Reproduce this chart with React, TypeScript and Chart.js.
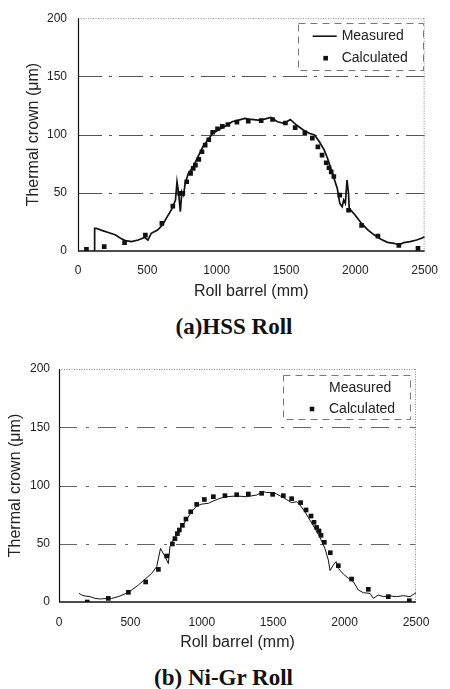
import React, { useEffect, useRef } from "react";
import { Chart, registerables } from "chart.js";

Chart.register(...registerables);

// ---------- data ----------
const MEASURED_LABEL = "Measured";
const CALCULATED_LABEL = "Calculated";
const X_TITLE = "Roll barrel (mm)";
const Y_TITLE = "Thermal crown (μm)";
const X_MIN = 0;
const X_MAX = 2500;
const X_STEP = 500;
const Y_MIN = 0;
const Y_MAX = 200;
const Y_STEP = 50;

// (a) HSS roll
const hssMeasuredX = [119, 120, 131, 177, 224, 271, 306, 341, 387, 434, 481, 504, 528, 574, 609, 644, 679, 703, 714, 726, 738, 749, 761, 773, 796, 831, 866, 901, 936, 971, 1018, 1064, 1111, 1158, 1204, 1251, 1298, 1344, 1391, 1438, 1485, 1531, 1578, 1625, 1671, 1706, 1741, 1776, 1800, 1823, 1846, 1870, 1888, 1905, 1916, 1928, 1940, 1951, 1956, 1998, 2045, 2092, 2138, 2185, 2232, 2279, 2314, 2349, 2395, 2442, 2477, 2500];
const hssMeasuredY = [0, 19.5, 19.5, 17.5, 15.7, 13.7, 10.9, 8.9, 8, 9.4, 11.7, 9.4, 15.2, 18, 22.3, 29.5, 36.6, 43.8, 59.5, 49.5, 33.8, 51, 48, 58, 66.7, 72.4, 81, 89.6, 95.3, 101, 104.4, 107.3, 111, 112.4, 113.9, 113, 112.4, 113.3, 114.7, 111, 109.6, 113, 108, 103.9, 101, 99.6, 93.8, 86.7, 79.5, 71, 62.4, 53.8, 40.9, 38, 43.8, 41, 61, 49.5, 36.6, 30.9, 23.7, 18, 13.7, 10, 7.4, 6.6, 5.2, 7.2, 8, 9.4, 10.9, 12.3];
const hssCalcX = [61, 189, 336, 486, 605, 684, 733, 756, 784, 812, 831, 847, 871, 894, 917, 943, 971, 1006, 1041, 1081, 1146, 1228, 1321, 1403, 1496, 1566, 1636, 1690, 1730, 1760, 1790, 1810, 1826, 1845, 1888, 1951, 2045, 2163, 2314, 2452];
const hssCalcY = [1.4, 3.7, 7.2, 13.7, 23.7, 38.6, 49.5, 49.5, 59.5, 66.7, 71, 73.8, 78.7, 85.3, 91, 95.6, 102, 105, 107, 108.7, 110.7, 111.6, 112, 113, 110, 106, 101.6, 97, 89.5, 82.4, 75.8, 71.5, 68, 64, 48, 35, 22, 12.8, 4.8, 2.2];

// (b) Ni-Gr roll
const nigrMeasuredX = [140, 159, 182, 217, 252, 287, 322, 369, 415, 462, 509, 556, 602, 649, 684, 711, 742, 766, 777, 789, 824, 859, 894, 929, 964, 999, 1046, 1081, 1127, 1174, 1244, 1314, 1384, 1431, 1454, 1501, 1524, 1571, 1629, 1664, 1687, 1722, 1757, 1792, 1827, 1862, 1886, 1898, 1921, 1940, 1956, 1991, 2026, 2061, 2096, 2131, 2178, 2201, 2236, 2271, 2318, 2364, 2411, 2458, 2500];
const nigrMeasuredY = [7.4, 6, 5.2, 4.6, 3.1, 2.6, 2.9, 3.1, 4.6, 6.9, 10.3, 14.6, 19.5, 24.6, 30.3, 46, 39, 33, 47.5, 51, 59, 65, 71, 77.5, 82.4, 84, 84.7, 86.7, 89, 90.4, 91, 90.4, 91.8, 94.7, 94, 93.8, 92.7, 89.6, 85.3, 86, 83.3, 77.5, 70.4, 63.2, 55.5, 46, 36, 27, 31.8, 34.6, 28.9, 24, 20.3, 17.5, 10.3, 8, 7.4, 3.1, 6, 4.6, 5.2, 4.6, 5.4, 4.6, 8];
const nigrCalcX = [198, 345, 486, 607, 696, 754, 794, 812, 829, 843, 864, 889, 922, 964, 1018, 1081, 1162, 1244, 1326, 1419, 1496, 1571, 1629, 1692, 1730, 1765, 1786, 1804, 1821, 1835, 1858, 1900, 1956, 2049, 2166, 2306, 2453];
const nigrCalcY = [0, 3.1, 8.3, 17.2, 28, 39.5, 49.8, 54.4, 58.7, 61.8, 65.8, 71.2, 77.5, 83.8, 88, 90.4, 91.3, 92.1, 92.7, 93.3, 92.4, 91.3, 88.7, 85.3, 79, 73.8, 68.4, 64, 61, 57.2, 51.2, 42.3, 31.2, 19.7, 10.9, 4.6, 1.1];

const CAPTION_A = "(a)HSS Roll";
const CAPTION_B = "(b) Ni-Gr Roll";

// ---------- helpers ----------
const zip = (xs: number[], ys: number[]) => xs.map((x, i) => ({ x, y: ys[i] }));
const SANS = '"Liberation Sans", Arial, sans-serif';

const framePlugin = {
  id: "frameGrid",
  beforeDatasetsDraw(chart: any, _args: any, o: any) {
    const { ctx, chartArea } = chart;
    const { left, right, top, bottom } = chartArea;
    const ys = chart.scales.y;
    ctx.save();
    ctx.lineWidth = 1;
    ctx.strokeStyle = o.gridColor;
    ctx.setLineDash(o.gridDash);
    ys.ticks.forEach((t: any) => {
      if (t.value > ys.min && t.value < ys.max) {
        const y = Math.round(ys.getPixelForValue(t.value)) + 0.5;
        ctx.beginPath();
        ctx.moveTo(left, y);
        ctx.lineTo(right, y);
        ctx.stroke();
      }
    });
    ctx.strokeStyle = "#888";
    ctx.setLineDash([1, 1.5]);
    ctx.beginPath();
    ctx.moveTo(left, top + 0.5);
    ctx.lineTo(right, top + 0.5);
    ctx.moveTo(right - 0.5, top);
    ctx.lineTo(right - 0.5, bottom);
    ctx.stroke();
    ctx.setLineDash([]);
    ctx.strokeStyle = "#111";
    ctx.lineWidth = 1.2;
    ctx.beginPath();
    ctx.moveTo(left + 0.5, top);
    ctx.lineTo(left + 0.5, bottom);
    ctx.stroke();
    ctx.lineWidth = 1.6;
    ctx.beginPath();
    ctx.moveTo(left, bottom);
    ctx.lineTo(right, bottom);
    ctx.stroke();
    ctx.restore();
  },
};

const boxLegendPlugin = {
  id: "boxLegend",
  afterDraw(chart: any, _args: any, o: any) {
    const { ctx, chartArea } = chart;
    const bx = chartArea.right - o.rightGap - o.w;
    const by = chartArea.top + o.topGap;
    ctx.save();
    ctx.strokeStyle = "#777";
    ctx.lineWidth = 1;
    ctx.setLineDash([7, 5]);
    ctx.strokeRect(Math.round(bx) + 0.5, Math.round(by) + 0.5, o.w, o.h);
    ctx.setLineDash([]);
    ctx.font = `14px ${SANS}`;
    ctx.fillStyle = "#222";
    ctx.textBaseline = "middle";
    ctx.textAlign = "left";
    const ds = chart.data.datasets;
    const y1 = by + o.row1;
    if (o.showLine) {
      ctx.strokeStyle = "#111";
      ctx.lineWidth = 1.6;
      ctx.beginPath();
      ctx.moveTo(bx + o.lineFrom, y1);
      ctx.lineTo(bx + o.lineTo, y1);
      ctx.stroke();
    }
    ctx.fillText(ds[0].label, bx + o.textX, y1);
    const y2 = by + o.row2;
    ctx.fillStyle = "#111";
    ctx.fillRect(bx + o.markX - 2.3, y2 - 2.3, 4.6, 4.6);
    ctx.fillStyle = "#222";
    ctx.fillText(ds[1].label, bx + o.textX, y2);
    ctx.restore();
  },
};

type PanelSpec = {
  top: number;
  height: number;
  measured: { x: number; y: number }[];
  calc: { x: number; y: number }[];
  lineWidth: number;
  yAxisWidth: number;
  padRight: number;
  yTitlePad: number;
  yTickPad: number;
  xTickPad: number;
  gridColor: string;
  gridDash: number[];
  legend: any;
};

const plainTick = (v: any) => String(v);

function Panel({ spec }: { spec: PanelSpec }) {
  const ref = useRef<HTMLCanvasElement | null>(null);
  useEffect(() => {
    if (!ref.current) return;
    const chart = new Chart(ref.current, {
      type: "line",
      data: {
        datasets: [
          {
            label: MEASURED_LABEL,
            data: spec.measured,
            borderColor: "#111",
            backgroundColor: "#111",
            borderWidth: spec.lineWidth,
            pointRadius: 0,
            tension: 0,
            fill: false,
          },
          {
            label: CALCULATED_LABEL,
            data: spec.calc,
            showLine: false,
            pointStyle: "rect",
            pointRadius: 3.3,
            pointBorderWidth: 0,
            pointBackgroundColor: "#111",
            borderColor: "#111",
            backgroundColor: "#111",
          },
        ],
      },
      options: {
        responsive: false,
        animation: false,
        layout: { padding: { left: 0, top: 18, right: spec.padRight, bottom: 0 } },
        plugins: {
          legend: { display: false },
          tooltip: { enabled: false },
          frameGrid: { gridColor: spec.gridColor, gridDash: spec.gridDash },
          boxLegend: spec.legend,
        } as any,
        scales: {
          x: {
            type: "linear",
            min: X_MIN,
            max: X_MAX,
            ticks: {
              stepSize: X_STEP,
              padding: spec.xTickPad,
              color: "#222",
              font: { family: SANS, size: 12 },
              maxRotation: 0,
              callback: plainTick,
            },
            grid: { display: false, drawTicks: false },
            border: { display: false },
            title: {
              display: true,
              text: X_TITLE,
              color: "#222",
              font: { family: SANS, size: 16 },
              padding: { top: 0, bottom: 9.4 },
            },
            afterFit: (s: any) => {
              s.height = 60;
            },
          },
          y: {
            type: "linear",
            min: Y_MIN,
            max: Y_MAX,
            ticks: {
              stepSize: Y_STEP,
              padding: spec.yTickPad,
              color: "#222",
              font: { family: SANS, size: 12 },
              callback: plainTick,
            },
            grid: { display: false, drawTicks: false },
            border: { display: false },
            title: {
              display: true,
              text: Y_TITLE,
              color: "#222",
              font: { family: SANS, size: 16 },
              padding: { top: spec.yTitlePad, bottom: 0 },
            },
            afterFit: (s: any) => {
              s.width = spec.yAxisWidth;
            },
          },
        },
      } as any,
      plugins: [framePlugin, boxLegendPlugin],
    });
    return () => chart.destroy();
  }, [spec]);
  return (
    <canvas
      ref={ref}
      width={450}
      height={spec.height}
      style={{ position: "absolute", left: 0, top: spec.top, width: 450, height: spec.height }}
    />
  );
}

const specA: PanelSpec = {
  top: 0,
  height: 311,
  measured: zip(hssMeasuredX, hssMeasuredY),
  calc: zip(hssCalcX, hssCalcY),
  lineWidth: 1.7,
  yAxisWidth: 78,
  padRight: 15,
  yTitlePad: 24,
  yTickPad: 11,
  xTickPad: 12,
  gridColor: "#555",
  gridDash: [24, 7, 3, 7],
  legend: { w: 125, h: 47, rightGap: 2, topGap: 5, row1: 13, row2: 35, textX: 44, markX: 28, lineFrom: 15, lineTo: 39, showLine: true },
};

const specB: PanelSpec = {
  top: 351,
  height: 311,
  measured: zip(nigrMeasuredX, nigrMeasuredY),
  calc: zip(nigrCalcX, nigrCalcY),
  lineWidth: 1,
  yAxisWidth: 59,
  padRight: 34,
  yTitlePad: 6,
  yTickPad: 9,
  xTickPad: 13,
  gridColor: "#666",
  gridDash: [18, 9, 3, 9],
  legend: { w: 127, h: 44, rightGap: 6, topGap: 6, row1: 13, row2: 34, textX: 46, markX: 29, lineFrom: 15, lineTo: 39, showLine: false },
};

const captionStyle: React.CSSProperties = {
  position: "absolute",
  width: 450,
  textAlign: "center",
  fontFamily: '"Liberation Serif", "Times New Roman", serif',
  fontWeight: "bold",
  fontSize: 23,
  lineHeight: "22px",
  color: "#111",
  whiteSpace: "nowrap",
};

export default function App() {
  return (
    <div
      style={{
        position: "absolute",
        left: 0,
        top: 0,
        width: 450,
        height: 689,
        overflow: "hidden",
        background: "#fff",
      }}
    >
      <Panel spec={specA} />
      <div style={{ ...captionStyle, left: 9, top: 316 }}>{CAPTION_A}</div>
      <Panel spec={specB} />
      <div style={{ ...captionStyle, left: -1.5, top: 667 }}>{CAPTION_B}</div>
    </div>
  );
}
